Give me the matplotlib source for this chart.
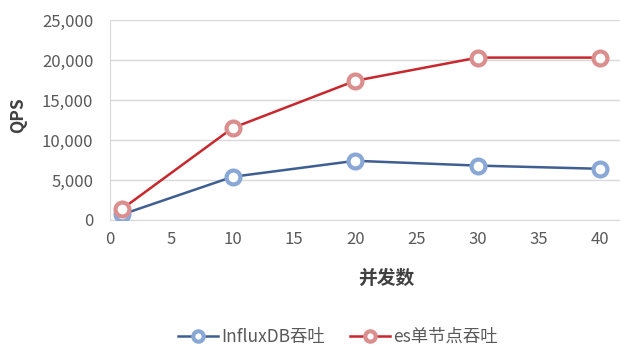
import matplotlib
matplotlib.use("Agg")
import matplotlib.pyplot as plt
from matplotlib.ticker import FuncFormatter

plt.rcParams['font.family'] = ['Noto Sans CJK SC', 'DejaVu Sans']

concurrency = [1, 10, 20, 30, 40]
influx_qps = [700, 5400, 7400, 6800, 6400]
es_qps = [1400, 11500, 17400, 20300, 20300]
series_names = ["InfluxDB吞吐", "es单节点吞吐"]
x_ticks = [0, 5, 10, 15, 20, 25, 30, 35, 40]
y_ticks = [0, 5000, 10000, 15000, 20000, 25000]

fig = plt.figure(figsize=(6.2, 3.46), dpi=100)
ax = fig.add_axes([110/620, 1-220/346, 1-110/620, 200/346])

ax.plot(concurrency, influx_qps, color='#3F5E92', lw=1.8, marker='o', ms=10,
        mfc='white', mec='#8AA8D6', mew=3, label=series_names[0], zorder=3)
ax.plot(concurrency, es_qps, color='#C8272D', lw=1.8, marker='o', ms=10,
        mfc='white', mec='#DB8E8E', mew=3, label=series_names[1], zorder=3)

ax.set_xlim(0, 41.6)
ax.set_ylim(0, 25000)
ax.set_xticks(x_ticks)
ax.set_yticks(y_ticks)
ax.yaxis.set_major_formatter(FuncFormatter(lambda v, p: f"{int(v):,}"))
ax.grid(axis='y', color='#D9D9D9', lw=1)
ax.set_axisbelow(True)
for s in ['top', 'right']:
    ax.spines[s].set_visible(False)
ax.spines['left'].set_color('#D9D9D9')
ax.spines['bottom'].set_color('#D9D9D9')
ax.tick_params(length=0, labelsize=12, colors='#595959')
ax.tick_params(axis='y', pad=12)
ax.tick_params(axis='x', pad=8)

fig.text(18/620, 1-115/346, "QPS", rotation=90, ha='center', va='center',
         fontsize=12.5, fontweight='bold', color='#404040')
fig.text(386/620, 1-278/346, "并发数", ha='center', va='center',
         fontsize=13.5, fontweight='bold', color='#404040')

leg = fig.legend(loc='center', bbox_to_anchor=(338/620, 1-337/346), ncol=2,
                 frameon=False, fontsize=12.5, handlelength=2.3, columnspacing=1.4,
                 handletextpad=0.2, markerscale=0.75)
for t in leg.get_texts():
    t.set_color('#595959')

fig.savefig("out.png", dpi=100)
